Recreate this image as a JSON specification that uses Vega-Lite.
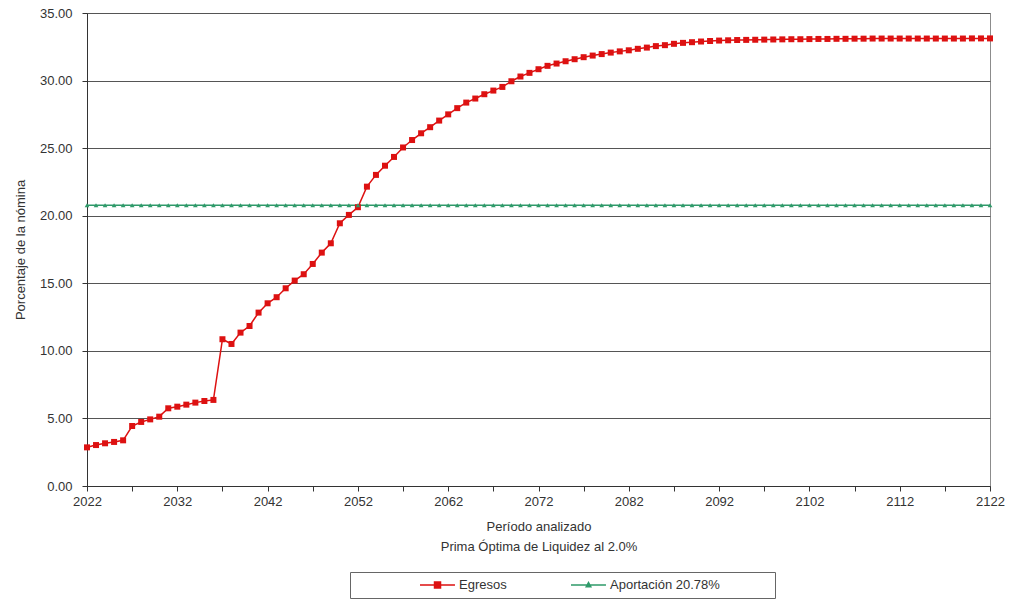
{
  "$schema": "https://vega.github.io/schema/vega-lite/v6.json",
  "autosize": {"type": "none"},
  "width": 903,
  "height": 473,
  "padding": {"left": 87, "top": 13, "right": 20, "bottom": 116},
  "background": "white",
  "config": {
    "font": "Liberation Sans",
    "view": {"stroke": "#8c8c8c", "strokeWidth": 1},
    "axis": {"labelFont": "Liberation Sans", "titleFont": "Liberation Sans", "labelFontSize": 13, "titleFontSize": 13, "labelColor": "#333", "titleColor": "#333", "titleFontWeight": "normal"}
  },
  "data": {"values": [
    {"year":2022,"Egresos":2.86},{"year":2023,"Egresos":3.03},{"year":2024,"Egresos":3.16},{"year":2025,"Egresos":3.26},{"year":2026,"Egresos":3.38},
    {"year":2027,"Egresos":4.44},{"year":2028,"Egresos":4.74},{"year":2029,"Egresos":4.93},{"year":2030,"Egresos":5.13},{"year":2031,"Egresos":5.75},
    {"year":2032,"Egresos":5.87},{"year":2033,"Egresos":6.02},{"year":2034,"Egresos":6.17},{"year":2035,"Egresos":6.29},{"year":2036,"Egresos":6.37},
    {"year":2037,"Egresos":10.86},{"year":2038,"Egresos":10.51},{"year":2039,"Egresos":11.35},{"year":2040,"Egresos":11.84},{"year":2041,"Egresos":12.83},
    {"year":2042,"Egresos":13.52},{"year":2043,"Egresos":13.97},{"year":2044,"Egresos":14.63},{"year":2045,"Egresos":15.2},{"year":2046,"Egresos":15.67},
    {"year":2047,"Egresos":16.43},{"year":2048,"Egresos":17.27},{"year":2049,"Egresos":17.96},{"year":2050,"Egresos":19.44},{"year":2051,"Egresos":20.06},
    {"year":2052,"Egresos":20.63},{"year":2053,"Egresos":22.15},{"year":2054,"Egresos":23.02},{"year":2055,"Egresos":23.7},{"year":2056,"Egresos":24.35},
    {"year":2057,"Egresos":25.05},{"year":2058,"Egresos":25.6},{"year":2059,"Egresos":26.1},{"year":2060,"Egresos":26.55},{"year":2061,"Egresos":27.04},
    {"year":2062,"Egresos":27.5},{"year":2063,"Egresos":27.96},{"year":2064,"Egresos":28.37},{"year":2065,"Egresos":28.67},{"year":2066,"Egresos":28.99},
    {"year":2067,"Egresos":29.26},{"year":2068,"Egresos":29.53},{"year":2069,"Egresos":29.95},{"year":2070,"Egresos":30.3},{"year":2071,"Egresos":30.57},
    {"year":2072,"Egresos":30.84},{"year":2073,"Egresos":31.09},{"year":2074,"Egresos":31.26},{"year":2075,"Egresos":31.43},{"year":2076,"Egresos":31.58},
    {"year":2077,"Egresos":31.73},{"year":2078,"Egresos":31.85},{"year":2079,"Egresos":31.96},{"year":2080,"Egresos":32.07},{"year":2081,"Egresos":32.16},
    {"year":2082,"Egresos":32.24},{"year":2083,"Egresos":32.35},{"year":2084,"Egresos":32.44},{"year":2085,"Egresos":32.55},{"year":2086,"Egresos":32.62},
    {"year":2087,"Egresos":32.72},{"year":2088,"Egresos":32.79},{"year":2089,"Egresos":32.84},{"year":2090,"Egresos":32.89},{"year":2091,"Egresos":32.93},
    {"year":2092,"Egresos":32.96},{"year":2093,"Egresos":32.98},{"year":2094,"Egresos":33.0},{"year":2095,"Egresos":33.01},{"year":2096,"Egresos":33.02},
    {"year":2097,"Egresos":33.03},{"year":2098,"Egresos":33.04},{"year":2099,"Egresos":33.05},{"year":2100,"Egresos":33.06},{"year":2101,"Egresos":33.06},
    {"year":2102,"Egresos":33.07},{"year":2103,"Egresos":33.08},{"year":2104,"Egresos":33.08},{"year":2105,"Egresos":33.09},{"year":2106,"Egresos":33.09},
    {"year":2107,"Egresos":33.1},{"year":2108,"Egresos":33.1},{"year":2109,"Egresos":33.11},{"year":2110,"Egresos":33.11},{"year":2111,"Egresos":33.11},
    {"year":2112,"Egresos":33.11},{"year":2113,"Egresos":33.11},{"year":2114,"Egresos":33.11},{"year":2115,"Egresos":33.11},{"year":2116,"Egresos":33.11},
    {"year":2117,"Egresos":33.11},{"year":2118,"Egresos":33.11},{"year":2119,"Egresos":33.11},{"year":2120,"Egresos":33.12},{"year":2121,"Egresos":33.12},
    {"year":2122,"Egresos":33.12}
  ]},
  "transform": [
    {"lookup": "year", "from": {"data": {"values": [{"k": 1, "Aportación": 20.78}]}, "key": "k", "fields": ["Aportación"]}, "default": 20.78},
    {"fold": ["Egresos", "Aportación"], "as": ["serie", "valor"]}
  ],
  "encoding": {
    "x": {
      "field": "year", "type": "quantitative",
      "scale": {"domain": [2022, 2122], "nice": false, "zero": false},
      "axis": {
        "values": [2022,2027,2032,2037,2042,2047,2052,2057,2062,2067,2072,2077,2082,2087,2092,2097,2102,2107,2112,2117,2122],
        "labelExpr": "(datum.value - 2022) % 10 == 0 ? datum.value : ''",
        "format": "d",
        "grid": false,
        "domainColor": "#333",
        "tickColor": "#333",
        "tickSize": 5,
        "labelPadding": 4,
        "labelFlush": false,
        "labelOverlap": false,
        "title": ["Período analizado", "Prima Óptima de Liquidez al 2.0%"],
        "titlePadding": 12,
        "titleLineHeight": 20
      }
    },
    "y": {
      "field": "valor", "type": "quantitative",
      "scale": {"domain": [0, 35], "nice": false},
      "axis": {
        "values": [0,5,10,15,20,25,30,35],
        "format": ".2f",
        "grid": true,
        "gridColor": "#555",
        "gridWidth": 1,
        "domainColor": "#333",
        "tickColor": "#333",
        "tickSize": 5,
        "labelPadding": 10,
        "title": "Porcentaje de la nómina",
        "titlePadding": 12
      }
    },
    "color": {
      "field": "serie", "type": "nominal",
      "scale": {"domain": ["Egresos", "Aportación"], "range": ["#dd1111", "#2f9a6a"]},
      "legend": {
        "orient": "none",
        "legendX": 263,
        "legendY": 559,
        "direction": "horizontal",
        "title": "\u00a0",
        "titleOrient": "right",
        "titlePadding": 49,
        "titleFontSize": 13,
        "strokeColor": "#666",
        "padding": 6,
        "symbolType": "M-1,0H4.83M1.42,-0.5H2.42V0.5H1.42Z",
        "symbolSize": 144,
        "symbolStrokeWidth": 1.5,
        "symbolOffset": 63,
        "labelOffset": 26,
        "labelLimit": 400,
        "columnPadding": 0,
        "labelFontSize": 13,
        "labelColor": "#333",
        "labelExpr": "datum.label == 'Aportación' ? 'Aportación 20.78%' : datum.label",
        "encode": {
          "symbols": {
            "update": {
              "shape": {"signal": "datum.value == 'Egresos' ? 'M-1,0H4.83M1.42,-0.5H2.42V0.5H1.42Z' : 'M-1,0H4.83M1.92,-0.4L2.3,0.3H1.54Z'"},
              "size": {"value": 144},
              "fill": {"scale": "color", "field": "value"},
              "stroke": {"scale": "color", "field": "value"},
              "strokeWidth": {"value": 1.5},
              "opacity": {"value": 1}
            }
          }
        }
      }
    }
  },
  "layer": [
    {"mark": {"type": "line", "strokeWidth": 1.5}},
    {
      "transform": [{"filter": "datum.serie == 'Egresos'"}],
      "mark": {"type": "point", "filled": true, "opacity": 1, "shape": "square", "size": 36}
    },
    {
      "transform": [{"filter": "datum.serie == 'Aportación'"}],
      "mark": {"type": "point", "filled": true, "opacity": 1, "shape": "triangle-up", "size": 22}
    }
  ]
}
